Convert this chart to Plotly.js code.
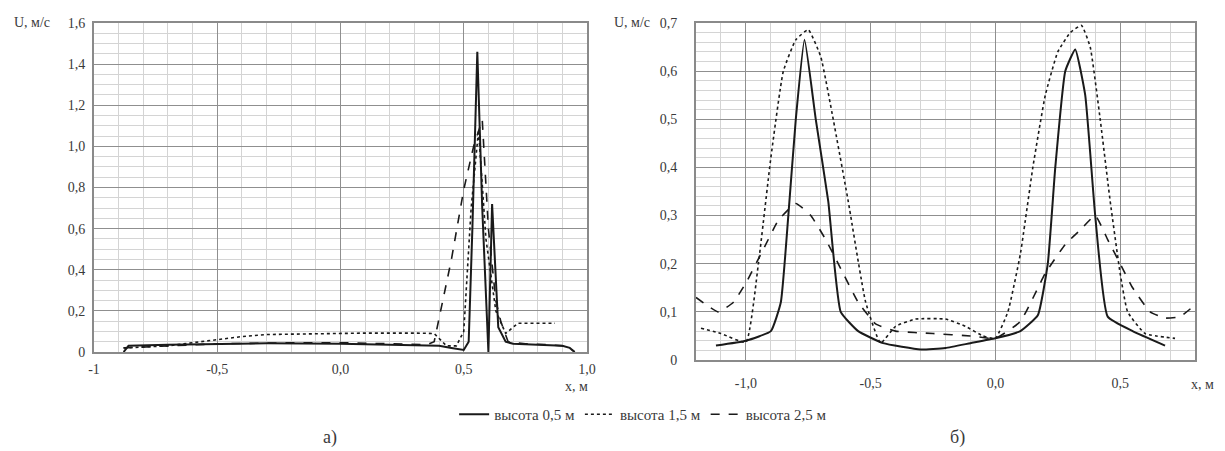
<!DOCTYPE html>
<html><head><meta charset="utf-8">
<script src="https://cdn.plot.ly/plotly-3.0.1.min.js"></script>
<style>html,body{margin:0;padding:0;background:#fff}#c{width:1225px;height:451px}</style>
</head><body><div id="c"></div>
<script>
// ---- Panel а) : x, m ----
const a_x05 = [-0.88,-0.86,-0.7,-0.5,-0.3,0.0,0.2,0.4,0.45,0.5,0.52,0.535,0.555,0.575,0.6,0.615,0.64,0.67,0.7,0.8,0.9,0.93,0.95];
const a_u05 = [0.0,0.03,0.035,0.04,0.042,0.04,0.035,0.03,0.02,0.01,0.05,0.6,1.46,0.7,0.0,0.72,0.12,0.05,0.04,0.035,0.03,0.02,0.0];
const a_x15 = [-0.88,-0.7,-0.5,-0.4,-0.3,-0.1,0.1,0.3,0.38,0.43,0.47,0.5,0.53,0.56,0.59,0.63,0.67,0.7,0.72,0.8,0.87];
const a_u15 = [0.02,0.03,0.06,0.075,0.085,0.09,0.092,0.092,0.09,0.03,0.03,0.1,0.7,1.08,0.55,0.2,0.09,0.12,0.14,0.14,0.14];
const a_x25 = [-0.88,-0.7,-0.5,-0.2,0.0,0.2,0.35,0.38,0.45,0.5,0.54,0.575,0.6,0.63,0.65,0.68,0.75,0.85,0.9,0.93,0.95];
const a_u25 = [0.02,0.03,0.04,0.045,0.045,0.04,0.035,0.05,0.45,0.79,1.0,1.13,0.6,0.25,0.15,0.05,0.04,0.035,0.03,0.02,0.0];
// ---- Panel б) ----
const b_x05 = [-1.12,-1.0,-0.9,-0.86,-0.83,-0.8,-0.765,-0.72,-0.67,-0.62,-0.55,-0.45,-0.3,-0.2,-0.1,0.0,0.1,0.17,0.21,0.24,0.28,0.32,0.36,0.4,0.45,0.55,0.68];
const b_u05 = [0.03,0.04,0.06,0.12,0.3,0.5,0.665,0.5,0.33,0.1,0.06,0.035,0.022,0.025,0.035,0.045,0.06,0.093,0.2,0.4,0.6,0.645,0.55,0.3,0.09,0.06,0.03];
const b_x15 = [-1.18,-1.1,-1.0,-0.95,-0.9,-0.85,-0.8,-0.75,-0.7,-0.65,-0.59,-0.52,-0.46,-0.4,-0.32,-0.2,-0.12,-0.05,0.0,0.05,0.1,0.15,0.2,0.25,0.3,0.345,0.38,0.42,0.46,0.5,0.53,0.6,0.72];
const b_u15 = [0.066,0.055,0.037,0.2,0.42,0.6,0.665,0.686,0.63,0.5,0.33,0.12,0.035,0.07,0.085,0.085,0.07,0.05,0.045,0.1,0.22,0.4,0.55,0.64,0.68,0.695,0.65,0.5,0.33,0.18,0.1,0.055,0.045];
const b_x25 = [-1.2,-1.11,-1.05,-1.0,-0.93,-0.87,-0.8,-0.74,-0.68,-0.62,-0.55,-0.48,-0.4,-0.25,-0.1,0.0,0.1,0.2,0.28,0.34,0.4,0.45,0.5,0.55,0.62,0.68,0.74,0.79];
const b_u25 = [0.13,0.1,0.12,0.16,0.23,0.29,0.325,0.3,0.25,0.19,0.12,0.075,0.06,0.055,0.05,0.045,0.08,0.18,0.24,0.27,0.3,0.25,0.2,0.15,0.1,0.087,0.09,0.11];

const seriesNames = ['высота 0,5 м','высота 1,5 м','высота 2,5 м'];
const a_yticks = [0,0.2,0.4,0.6,0.8,1.0,1.2,1.4,1.6];
const a_ytext = ['0','0,2','0,4','0,6','0,8','1,0','1,2','1,4','1,6'];
const a_xticks = [-1,-0.5,0,0.5,1.0];
const a_xtext = ['-1','-0,5','0,0','0,5','1,0'];
const b_yticks = [0,0.1,0.2,0.3,0.4,0.5,0.6,0.7];
const b_ytext = ['0','0,1','0,2','0,3','0,4','0,5','0,6','0,7'];
const b_xticks = [-1.0,-0.5,0,0.5];
const b_xtext = ['-1,0','-0,5','0,0','0,5'];

const C = '#1a1a1a';
const styles = [{dash:'solid',width:2},{dash:'dot',width:1.6},{dash:'dash',width:1.6}];
function tr(x,y,i,xa,ya,show,shape){return {x:x,y:y,mode:'lines',name:seriesNames[i],showlegend:show,
  line:{color:C,dash:styles[i].dash,width:styles[i].width,shape:shape,smoothing:0.4},xaxis:xa,yaxis:ya};}
const data = [
  tr(a_x05,a_u05,0,'x','y',true,'linear'), tr(a_x15,a_u15,1,'x','y',true,'linear'), tr(a_x25,a_u25,2,'x','y',true,'linear'),
  tr(b_x05,b_u05,0,'x2','y2',false,'spline'), tr(b_x15,b_u15,1,'x2','y2',false,'spline'), tr(b_x25,b_u25,2,'x2','y2',false,'spline')
];
const W=1225,H=451;
const FAM='"Liberation Serif", "DejaVu Serif", "Times New Roman", serif';
const font={family:FAM,size:14,color:'#3a3a3a'};
function ax(o){return Object.assign({showline:true,mirror:true,linecolor:'#8a8a8a',linewidth:2,
  showgrid:true,gridcolor:'#8f8f8f',gridwidth:1,zeroline:false,ticks:'',ticklabelstandoff:4,
  tickfont:font,fixedrange:true},o);}
const layout = {
  width:W,height:H,margin:{l:0,r:0,t:0,b:0},paper_bgcolor:'#fff',plot_bgcolor:'#fff',font:font,
  xaxis: ax({domain:[94/W,587/W],range:[-1,1.0],tickvals:a_xticks,ticktext:a_xtext,anchor:'y',ticklabelstandoff:3,
     minor:{dtick:0.1,showgrid:true,gridcolor:'#d4d4d4',gridwidth:1}}),
  yaxis: ax({domain:[1-352/H,1-23/H],range:[0,1.6],tickvals:a_yticks,ticktext:a_ytext,anchor:'x',
     minor:{dtick:0.05,showgrid:true,gridcolor:'#d4d4d4',gridwidth:1}}),
  xaxis2: ax({domain:[696/W,1195/W],range:[-1.2,0.8],tickvals:b_xticks,ticktext:b_xtext,anchor:'y2',ticklabelstandoff:9,
     minor:{dtick:0.1,showgrid:true,gridcolor:'#d4d4d4',gridwidth:1}}),
  yaxis2: ax({domain:[1-360/H,1-23/H],range:[0,0.7],tickvals:b_yticks,ticktext:b_ytext,anchor:'x2',ticklabelstandoff:14,
     minor:{dtick:0.02,showgrid:true,gridcolor:'#d4d4d4',gridwidth:1}}),
  showlegend:true,
  legend:{orientation:'h',x:0.525,xanchor:'center',y:1-398/H,yanchor:'top',font:Object.assign({},font,{size:15}),bgcolor:'rgba(0,0,0,0)',
     itemwidth:30,tracegroupgap:0},
  annotations:[
    {xref:'paper',yref:'paper',x:12/W,y:1-22/H,xanchor:'left',yanchor:'middle',text:'U, м/с',showarrow:false,font:font},
    {xref:'paper',yref:'paper',x:612/W,y:1-22/H,xanchor:'left',yanchor:'middle',text:'U, м/с',showarrow:false,font:font},
    {xref:'paper',yref:'paper',x:590/W,y:1-386/H,xanchor:'right',yanchor:'middle',text:'x, м',showarrow:false,font:font},
    {xref:'paper',yref:'paper',x:1216/W,y:1-384/H,xanchor:'right',yanchor:'middle',text:'x, м',showarrow:false,font:font},
    {xref:'paper',yref:'paper',x:330/W,y:1-437/H,xanchor:'center',yanchor:'middle',text:'а)',showarrow:false,font:Object.assign({},font,{size:18})},
    {xref:'paper',yref:'paper',x:957/W,y:1-437/H,xanchor:'center',yanchor:'middle',text:'б)',showarrow:false,font:Object.assign({},font,{size:18})}
  ]
};
Plotly.newPlot('c',data,layout,{displayModeBar:false,staticPlot:true});
</script></body></html>
